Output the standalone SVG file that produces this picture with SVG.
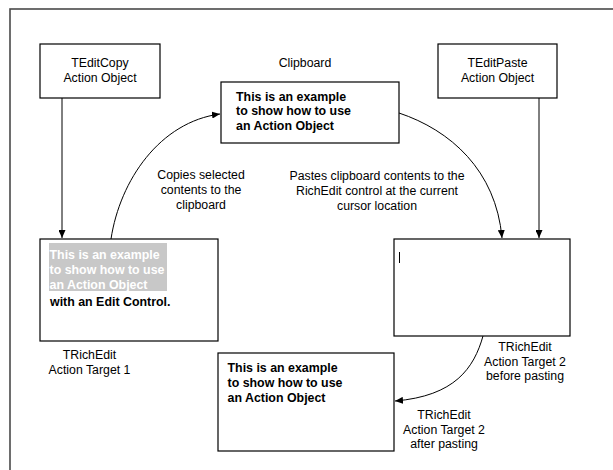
<svg xmlns="http://www.w3.org/2000/svg" width="613" height="470" viewBox="0 0 613 470">
<style>
.box{fill:#fff;stroke:#000;stroke-width:1.2}
.t{font-family:"Liberation Sans",Arial,sans-serif;font-size:12.3px;fill:#000}
.c{text-anchor:middle}
.b{font-family:"Liberation Sans",Arial,sans-serif;font-size:12.4px;font-weight:bold;fill:#000}
.w{fill:#fff}
.con{fill:none;stroke:#000;stroke-width:1}
</style>
<defs>
<marker id="ah" markerUnits="userSpaceOnUse" markerWidth="9" markerHeight="7" refX="8" refY="3.5" orient="auto">
<path d="M0,0 L8,3.5 L0,7 z" fill="#000"/>
</marker>
</defs>
<rect x="10" y="9" width="610" height="470" fill="#fff" stroke="#4a4a4a" stroke-width="1.6"/>

<g id="connectors">
<line class="con" x1="62" y1="98" x2="62" y2="238" marker-end="url(#ah)"/>
<line class="con" x1="539" y1="98" x2="539" y2="238" marker-end="url(#ah)"/>
<path class="con" d="M111,239 C120,180 160,122 220,114" marker-end="url(#ah)"/>
<path class="con" d="M399,113 C450,130 496,170 502,238" marker-end="url(#ah)"/>
<path class="con" d="M483,336 C474,368 455,396 395,401" marker-end="url(#ah)"/>
</g>

<g id="teditcopy">
<rect class="box" x="40" y="44" width="120" height="54"/>
<text class="t c" x="100" y="67">TEditCopy</text>
<text class="t c" x="100" y="82">Action Object</text>
</g>

<g id="clipboard">
<text class="t c" x="305" y="67">Clipboard</text>
<rect class="box" x="221" y="82" width="178" height="61"/>
<text class="b" x="236" y="101">This is an example</text>
<text class="b" x="236" y="115">to show how to use</text>
<text class="b" x="236" y="129.5">an Action Object</text>
</g>

<g id="teditpaste">
<rect class="box" x="438" y="44" width="119" height="54"/>
<text class="t c" x="497.5" y="67">TEditPaste</text>
<text class="t c" x="497.5" y="82">Action Object</text>
</g>

<g id="copy-label">
<text class="t c" x="201" y="179">Copies selected</text>
<text class="t c" x="201" y="194">contents to the</text>
<text class="t c" x="201" y="208.5">clipboard</text>
</g>

<g id="paste-label">
<text class="t c" x="377" y="180">Pastes clipboard contents to the</text>
<text class="t c" x="377" y="195">RichEdit control at the current</text>
<text class="t c" x="377" y="209.5">cursor location</text>
</g>

<g id="target1">
<rect class="box" x="40" y="239" width="178" height="102"/>
<rect x="49" y="243" width="118" height="48" fill="#c8c8c8"/>
<text class="b w" x="49.5" y="258.5">This is an example</text>
<text class="b w" x="49.5" y="274">to show how to use</text>
<text class="b w" x="49.5" y="289">an Action Object</text>
<text class="b" x="50" y="305.5">with an Edit Control.</text>
<text class="t c" x="89.5" y="359">TRichEdit</text>
<text class="t c" x="89.5" y="374">Action Target 1</text>
</g>

<g id="target2-before">
<rect class="box" x="394" y="239" width="176" height="97"/>
<line x1="399.5" y1="252" x2="399.5" y2="263" stroke="#000" stroke-width="1"/>
<text class="t c" x="525" y="350.5">TRichEdit</text>
<text class="t c" x="525" y="365.5">Action Target 2</text>
<text class="t c" x="525" y="380">before pasting</text>
</g>

<g id="target2-after">
<rect class="box" x="218" y="353" width="176" height="98"/>
<text class="b" x="227.5" y="372">This is an example</text>
<text class="b" x="227.5" y="387">to show how to use</text>
<text class="b" x="227.5" y="402">an Action Object</text>
<text class="t c" x="444" y="418.5">TRichEdit</text>
<text class="t c" x="444" y="433.5">Action Target 2</text>
<text class="t c" x="444" y="448">after pasting</text>
</g>
</svg>
